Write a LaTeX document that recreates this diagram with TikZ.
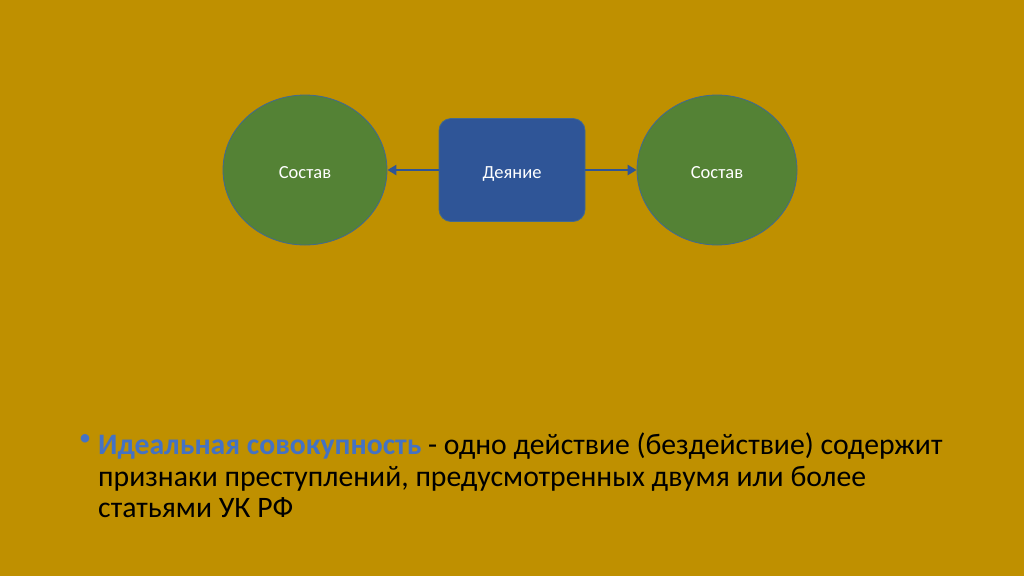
\documentclass[tikz,border=0pt]{standalone}
\usepackage{fontspec}
\setmainfont{Carlito}
\usetikzlibrary{positioning,arrows.meta}
\definecolor{fon}{RGB}{191,144,0}
\definecolor{zelen}{RGB}{84,130,53}
\definecolor{sin}{RGB}{47,85,151}
\definecolor{kontur}{RGB}{65,105,145}
\definecolor{termin}{RGB}{68,114,196}
\tikzset{
  krug/.style={ellipse,fill=zelen,draw=kontur,line width=0.8pt,text=white,
    font=\fontsize{18.5}{22}\selectfont,text height=16pt,text depth=0pt,
    minimum width=164,minimum height=150},
  blok/.style={rectangle,rounded corners=12pt,fill=sin,draw=kontur,line width=0.8pt,
    text=white,font=\fontsize{18.5}{22}\selectfont,text height=16pt,text depth=0pt,
    minimum width=146,minimum height=103},
  strelka/.style={-{Triangle[length=9pt,width=10pt]},draw=sin,line width=2.5pt}
}
\usetikzlibrary{shapes.geometric}
\begin{document}
\begin{tikzpicture}[x=1pt,y=-1pt]
  \fill[fon] (0,0) rectangle (1024,576);
  % figury
  \node[blok] (deyanie) at (512,170) {Деяние};
  \node[krug] (sostavL) at (305,170) {Состав};
  \node[krug,minimum width=160] (sostavR) at (717,170) {Состав};
  \draw[strelka] (deyanie.west) -- (sostavL.east);
  \draw[strelka] (deyanie.east) -- (sostavR.west);
  % tekst
  \node[anchor=north west,inner sep=0pt,align=left,
    font=\fontsize{29.7}{31.5}\selectfont] (tekst) at (98,433)
    {\textcolor{termin}{\textbf{Идеальная совокупность}} - одно действие (бездействие) содержит\\
     признаки преступлений, предусмотренных двумя или более\\
     статьями УК РФ};
  \node[inner sep=0pt,text=termin,
    font=\fontsize{24}{28}\selectfont] (punkt) at (85,440) {•};
\end{tikzpicture}
\end{document}
